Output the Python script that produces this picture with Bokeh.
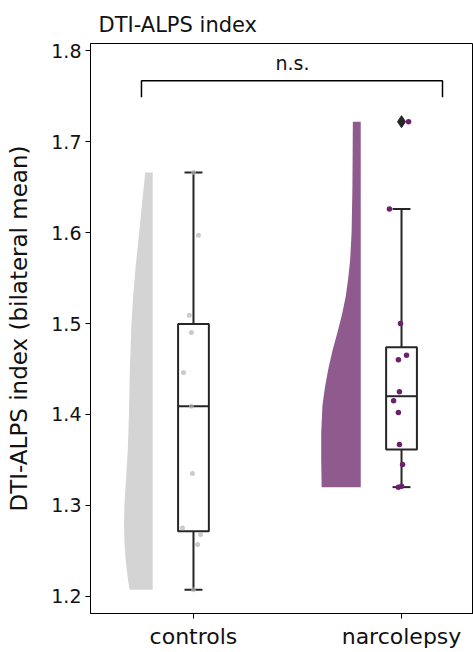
import numpy as np
from bokeh.plotting import figure
from bokeh.models import Range1d, FixedTicker
from bokeh.embed import file_html
from bokeh.resources import INLINE

# ---------------- data ----------------
categories = ["controls", "narcolepsy"]
controls = [1.207, 1.257, 1.268, 1.275, 1.335, 1.409, 1.446, 1.490, 1.509, 1.597, 1.666]
narcolepsy = [1.320, 1.321, 1.345, 1.367, 1.402, 1.415, 1.425, 1.460, 1.465, 1.500, 1.626, 1.722]
# horizontal jitter of the strip points (category units)
controls_jitter = [0.0, 0.02, 0.034, -0.053, -0.005, -0.01, -0.048, -0.01, -0.02, 0.024, 0.0]
narcolepsy_jitter = [-0.015, 0.0, 0.005, -0.01, -0.015, -0.038, -0.01, -0.015, 0.024, -0.005, -0.058, 0.034]
# half-violin density profiles (value level -> half width, category units)
controls_kde_y = [1.207, 1.22, 1.24, 1.26, 1.28, 1.30, 1.33, 1.36, 1.40, 1.45, 1.50, 1.53, 1.56, 1.60, 1.63, 1.666]
controls_kde_w = [0.111, 0.120, 0.130, 0.136, 0.138, 0.136, 0.128, 0.120, 0.114, 0.110, 0.102, 0.094, 0.083, 0.065, 0.052, 0.036]
narco_kde_y = [1.320, 1.35, 1.38, 1.41, 1.43, 1.45, 1.47, 1.49, 1.51, 1.53, 1.55, 1.57, 1.60, 1.65, 1.722]
narco_kde_w = [0.188, 0.190, 0.190, 0.184, 0.172, 0.156, 0.136, 0.112, 0.090, 0.072, 0.060, 0.051, 0.044, 0.040, 0.038]
y_ticks = [1.2, 1.3, 1.4, 1.5, 1.6, 1.7, 1.8]

FONT = "DejaVu Sans"
BOX_EDGE = "#262626"
TXT = "#111111"

p = figure(width=473, height=652,
           x_range=Range1d(-0.495, 1.346), y_range=Range1d(1.181, 1.808),
           output_backend="svg", toolbar_location=None,
           min_border_left=90, min_border_right=0, min_border_top=43, min_border_bottom=39)

p.title.text = "DTI-ALPS index"
p.title.align = "left"
p.title.offset = 8
p.title.standoff = 14
p.title.text_font = FONT
p.title.text_font_size = "21px"
p.title.text_font_style = "normal"
p.title.text_color = TXT

p.grid.visible = False
p.outline_line_color = "black"
p.outline_line_width = 1

p.yaxis.ticker = FixedTicker(ticks=y_ticks)
p.yaxis.major_label_overrides = {t: f"{t:.1f}" for t in y_ticks}
p.xaxis.ticker = FixedTicker(ticks=[0, 1])
p.xaxis.major_label_overrides = {0: categories[0], 1: categories[1]}
for ax in (p.xaxis[0], p.yaxis[0]):
    ax.major_label_text_font = FONT
    ax.major_label_text_color = TXT
    ax.axis_label_text_font = FONT
    ax.axis_label_text_font_style = "normal"
    ax.axis_label_text_color = TXT
    ax.minor_tick_line_color = None
    ax.major_tick_out = 5
    ax.major_tick_in = 0
    ax.axis_line_color = "black"
    ax.major_tick_line_color = "black"
p.yaxis.major_label_text_font_size = "19px"
p.xaxis.major_label_text_font_size = "22px"
p.yaxis.axis_label = "DTI-ALPS index (bilateral mean)"
p.yaxis.axis_label_text_font_size = "23px"
p.yaxis.axis_label_standoff = 16
p.yaxis.major_label_standoff = 4
p.xaxis.major_label_standoff = 5

# ---------------- half violins ----------------
violin_offset = -0.196
for i, (ky, kw, col) in enumerate([(controls_kde_y, controls_kde_w, "#d4d4d4"),
                                   (narco_kde_y, narco_kde_w, "#8f5b8f")]):
    edge = i + violin_offset
    xs = [edge - w for w in kw] + [edge, edge]
    ys = list(ky) + [ky[-1], ky[0]]
    p.patch(xs, ys, fill_color=col, line_color=None)

# ---------------- boxes ----------------
box_half = 0.074
cap_half = 0.043
for i, data in enumerate([controls, narcolepsy]):
    d = np.array(data)
    q1, med, q3 = np.percentile(d, [25, 50, 75])
    iqr = q3 - q1
    lo = d[d >= q1 - 1.5 * iqr].min()
    hi = d[d <= q3 + 1.5 * iqr].max()
    out = d[(d < lo) | (d > hi)]
    p.segment([i, i], [lo, q3], [i, i], [q1, hi], line_color=BOX_EDGE, line_width=2)
    p.segment([i - cap_half, i - cap_half], [lo, hi], [i + cap_half, i + cap_half], [lo, hi],
              line_color=BOX_EDGE, line_width=2)
    p.quad(left=i - box_half, right=i + box_half, bottom=q1, top=q3,
           fill_color="white", line_color=BOX_EDGE, line_width=2)
    p.segment([i - box_half], [med], [i + box_half], [med], line_color=BOX_EDGE, line_width=2)
    if len(out):
        p.scatter([i] * len(out), list(out), marker="diamond", size=12,
                  fill_color=BOX_EDGE, line_color=BOX_EDGE)

# ---------------- strip points ----------------
p.scatter([0 + j for j in controls_jitter], controls, size=5,
          fill_color="#b5b5b5", line_color=None, fill_alpha=0.7)
p.scatter([1 + j for j in narcolepsy_jitter], narcolepsy, size=5.5,
          fill_color="#6e1f6e", line_color=None)

# ---------------- significance bracket ----------------
br_left, br_right, br_low, br_high = -0.25, 1.197, 1.749, 1.767
p.line([br_left, br_left, br_right, br_right], [br_low, br_high, br_high, br_low],
       line_color="black", line_width=1.5)
p.text([0.476], [1.774], text=["n.s."], text_font_size="19px", text_align="center",
       text_baseline="bottom", text_color=TXT, text_font={"value": FONT})

open("out.html", "w").write(file_html(p, INLINE))
